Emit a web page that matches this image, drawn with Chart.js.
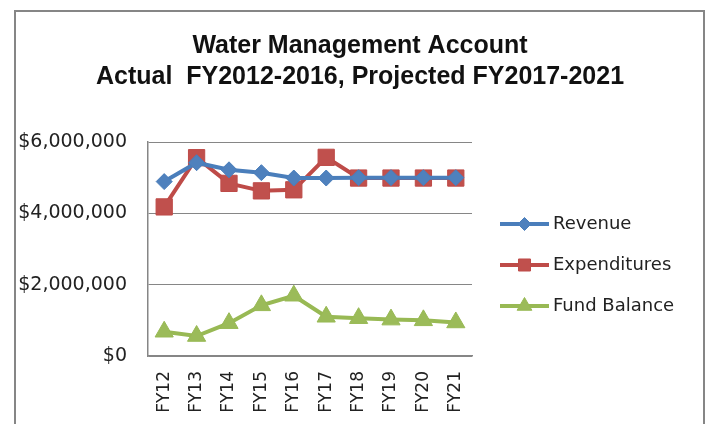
<!DOCTYPE html>
<html>
<head>
<meta charset="utf-8">
<script src="https://cdn.jsdelivr.net/npm/chart.js@4/dist/chart.umd.min.js"></script>
<style>
    html, body { margin: 0; padding: 0; background: #fff; }
</style>
</head>
<body>
<canvas id="chartWater" width="712" height="424"></canvas>
<script>
const years = ["FY12", "FY13", "FY14", "FY15", "FY16", "FY17", "FY18", "FY19", "FY20", "FY21"];
const revenue = [4890000, 5420000, 5220000, 5140000, 4990000, 4990000, 5000000, 5000000, 5000000, 5000000];
const expenditures = [4180000, 5560000, 4840000, 4630000, 4660000, 5570000, 4990000, 4990000, 4990000, 4990000];
const fundBalance = [680000, 560000, 920000, 1420000, 1690000, 1100000, 1060000, 1020000, 1000000, 940000];
const yTicks = [0, 2000000, 4000000, 6000000];
const titleLines = ["Water Management Account", "Actual  FY2012-2016, Projected FY2017-2021"];

const gray = "#868686";
const textColor = "#222";

// moldura cinza em volta do gráfico + título
const framePlugin = {
    id: "frame",
    beforeDraw(chart) {
        const ctx = chart.ctx;
        ctx.save();
        ctx.fillStyle = "#fff";
        ctx.fillRect(0, 0, chart.width, chart.height);
        ctx.strokeStyle = gray;
        ctx.lineWidth = 2;
        ctx.strokeRect(15, 11, 689, 440);
        ctx.fillStyle = "#111";
        ctx.font = "bold 25px 'Liberation Sans'";
        ctx.textAlign = "center";
        ctx.textBaseline = "middle";
        ctx.fillText(titleLines[0], 360, 46);
        ctx.fillText(titleLines[1], 360, 77);
        ctx.restore();
    }
};

// legenda com linha + marcador, como no Excel
const legendPlugin = {
    id: "lineLegend",
    afterDraw(chart) {
        const ctx = chart.ctx;
        const legendRadius = [6.5, 8.5, 8.5];
        ctx.save();
        chart.data.datasets.forEach((ds, i) => {
            const y = 224 + i * 41;
            ctx.strokeStyle = ds.borderColor;
            ctx.lineWidth = 4;
            ctx.beginPath();
            ctx.moveTo(500, y);
            ctx.lineTo(549, y);
            ctx.stroke();
            ctx.fillStyle = ds.pointBackgroundColor;
            ctx.strokeStyle = ds.pointBorderColor;
            ctx.lineWidth = 1;
            Chart.helpers.drawPoint(ctx, {
                pointStyle: ds.pointStyle,
                radius: legendRadius[i],
                rotation: 0,
                borderWidth: 1
            }, 524.5, y);
            ctx.fillStyle = textColor;
            ctx.font = "18px 'DejaVu Sans'";
            ctx.textAlign = "left";
            ctx.textBaseline = "middle";
            ctx.fillText(ds.label, 553, y);
        });
        ctx.restore();
    }
};

const ctx = document.getElementById("chartWater").getContext("2d");
new Chart(ctx, {
    type: "line",
    data: {
        labels: years,
        datasets: [
            {
                label: "Revenue",
                data: revenue,
                borderColor: "#4A7EBB",
                borderWidth: 4,
                pointStyle: "rectRot",
                pointRadius: 8,
                pointBackgroundColor: "#4F81BD",
                pointBorderColor: "#4A7EBB",
                pointBorderWidth: 1,
                tension: 0
            },
            {
                label: "Expenditures",
                data: expenditures,
                borderColor: "#BE4B48",
                borderWidth: 4,
                pointStyle: "rect",
                pointRadius: 11.5,
                pointBackgroundColor: "#C0504D",
                pointBorderColor: "#BE4B48",
                pointBorderWidth: 1,
                tension: 0
            },
            {
                label: "Fund Balance",
                data: fundBalance,
                borderColor: "#98B954",
                borderWidth: 4,
                pointStyle: "triangle",
                pointRadius: 10.5,
                pointBackgroundColor: "#9BBB59",
                pointBorderColor: "#98B954",
                pointBorderWidth: 1,
                tension: 0
            }
        ]
    },
    options: {
        responsive: false,
        animation: false,
        layout: { padding: { top: 142, left: 0, right: 240, bottom: 0 } },
        plugins: {
            legend: { display: false },
            title: { display: false },
            tooltip: { enabled: false }
        },
        scales: {
            x: {
                offset: true,
                grid: { display: false, drawTicks: false, offset: true },
                border: { display: true, color: gray, width: 1.5 },
                ticks: {
                    color: textColor,
                    font: { family: "DejaVu Sans", size: 17 },
                    minRotation: 90,
                    maxRotation: 90,
                    padding: 15,
                    autoSkip: false
                },
                afterFit: s => { s.height = 68; }
            },
            y: {
                min: 0,
                max: 6000000,
                grid: { color: gray, lineWidth: 1, drawTicks: false },
                border: { display: true, color: gray, width: 1.5 },
                ticks: {
                    color: textColor,
                    font: { family: "DejaVu Sans", size: 19 },
                    padding: 21,
                    callback: v => "$" + v.toLocaleString("en-US")
                },
                afterBuildTicks: s => { s.ticks = yTicks.map(v => ({ value: v })); },
                afterFit: s => { s.width = 148; }
            }
        }
    },
    plugins: [framePlugin, legendPlugin]
});
</script>
</body>
</html>
